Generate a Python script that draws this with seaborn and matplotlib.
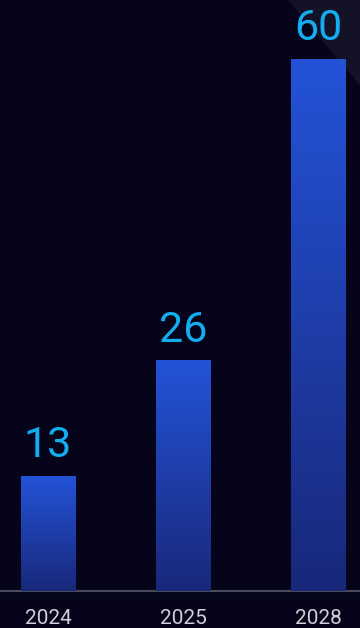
import numpy as np
import pandas as pd
import matplotlib
matplotlib.use("Agg")
import matplotlib.pyplot as plt
import seaborn as sns
from matplotlib.colors import LinearSegmentedColormap
from matplotlib.patches import Polygon

years = ["2024", "2025", "2028"]
values = [13, 26, 60]

df = pd.DataFrame({"year": years, "value": values})

sns.set_theme(style="dark")
plt.rcParams['font.family'] = ['Roboto', 'DejaVu Sans']

BG = "#05041a"
fig = plt.figure(figsize=(3.6, 6.28), dpi=100, facecolor=BG)

# faint diagonal highlight in the top-right corner (behind the axes)
tri = Polygon([[288/360, 1], [1, 1], [1, 1 - 85/628]], closed=True,
              transform=fig.transFigure, facecolor="#131227", edgecolor="none", zorder=-1)
fig.patches.append(tri)

ax = fig.add_axes([0, 37/628, 1, 591/628])
ax.patch.set_alpha(0)
ax.set_zorder(1)

sns.barplot(data=df, x="year", y="value", ax=ax, color="#2552d8", width=0.40,
            saturation=1, edgecolor="none", zorder=3)

cmap = LinearSegmentedColormap.from_list("g", ["#18287a", "#2453d8"])
grad = np.linspace(0, 1, 256).reshape(-1, 1)
for p in ax.patches:
    x0, y0 = p.get_x(), p.get_y()
    w, h = p.get_width(), p.get_height()
    im = ax.imshow(grad, cmap=cmap, aspect="auto", origin="lower",
                   extent=[x0, x0 + w, y0, y0 + h], zorder=4)
    im.set_clip_path(p)
    ax.annotate(f"{int(round(h))}", (x0 + w / 2, h), xytext=(0, 7),
                textcoords="offset points", ha="center", va="bottom",
                color="#12aef0", fontsize=31, zorder=5, annotation_clip=False)

ax.set_xlim(-0.355, 2.307)
ax.set_ylim(0, 66.6)
ax.set_xlabel("")
ax.set_ylabel("")
ax.set_yticks([])
ax.tick_params(axis="x", length=0, pad=13, labelsize=15, labelcolor="#cfcfd6")
ax.grid(False)
for s in ["top", "right", "left"]:
    ax.spines[s].set_visible(False)
ax.spines["bottom"].set_visible(True)
ax.spines["bottom"].set_color("#4a4a5c")
ax.spines["bottom"].set_linewidth(1.5)

fig.savefig("out.png", dpi=100, facecolor=BG)
